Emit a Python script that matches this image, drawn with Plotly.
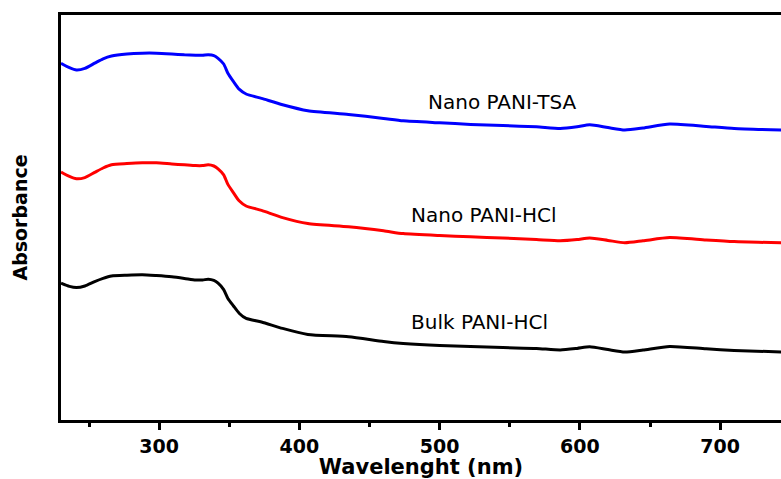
import plotly.graph_objects as go

# Wavelength (nm)
wavelength = [230, 236, 241, 247, 254, 260, 266, 277, 288, 298, 309, 318, 326, 331, 335, 339,
              342, 346, 349, 353, 357, 362, 373, 388, 406, 435, 460, 474, 500, 522, 545, 569,
              586, 598, 607, 620, 632, 645, 664, 690, 710, 744]

# Absorbance (a.u.)
nano_pani_tsa = [0.892, 0.881, 0.875, 0.879, 0.892, 0.903, 0.910, 0.915, 0.917, 0.917, 0.915, 0.913,
                 0.912, 0.912, 0.913, 0.911, 0.904, 0.890, 0.867, 0.846, 0.827, 0.815, 0.804, 0.788,
                 0.773, 0.764, 0.754, 0.748, 0.743, 0.739, 0.736, 0.733, 0.729, 0.733, 0.738, 0.731,
                 0.725, 0.730, 0.740, 0.734, 0.729, 0.725]
nano_pani_hcl = [0.620, 0.609, 0.603, 0.606, 0.619, 0.630, 0.638, 0.641, 0.643, 0.643, 0.640, 0.638,
                 0.636, 0.636, 0.638, 0.635, 0.628, 0.613, 0.589, 0.568, 0.548, 0.535, 0.524, 0.506,
                 0.491, 0.483, 0.473, 0.466, 0.461, 0.458, 0.455, 0.451, 0.448, 0.451, 0.455, 0.449,
                 0.443, 0.448, 0.456, 0.450, 0.446, 0.443]
bulk_pani_hcl = [0.342, 0.334, 0.331, 0.335, 0.346, 0.354, 0.360, 0.362, 0.363, 0.361, 0.358, 0.354,
                 0.350, 0.350, 0.352, 0.349, 0.342, 0.326, 0.304, 0.285, 0.267, 0.254, 0.245, 0.229,
                 0.214, 0.208, 0.196, 0.191, 0.186, 0.184, 0.181, 0.179, 0.175, 0.179, 0.183, 0.176,
                 0.170, 0.175, 0.184, 0.178, 0.174, 0.170]

series_names = ["Nano PANI-TSA", "Nano PANI-HCl", "Bulk PANI-HCl"]
series_values = [nano_pani_tsa, nano_pani_hcl, bulk_pani_hcl]
series_colors = ["#0000FF", "#FF0000", "#000000"]

# label anchor positions (nm, absorbance)
label_x = [544.6, 531.5, 528.5]
label_y = [0.796, 0.5125, 0.245]

fig = go.Figure()
for name, vals, col in zip(series_names, series_values, series_colors):
    fig.add_trace(go.Scatter(x=wavelength, y=vals, mode="lines", name=name,
                             line=dict(color=col, width=3, shape="spline", smoothing=0.6),
                             showlegend=False))

for name, lx, ly in zip(series_names, label_x, label_y):
    fig.add_annotation(x=lx, y=ly, text=name, showarrow=False,
                       font=dict(family="DejaVu Sans", size=20, color="#000"))

fig.update_layout(
    width=781, height=479,
    margin=dict(l=61, r=0, t=15, b=59),
    paper_bgcolor="white", plot_bgcolor="white",
    font=dict(family="DejaVu Sans", color="#000"),
)
fig.update_xaxes(
    range=[230, 743.4], tick0=0, dtick=100, automargin=False,
    ticks="outside", ticklen=7, tickwidth=3, tickcolor="#000",
    minor=dict(dtick=50, ticks="outside", ticklen=4, tickwidth=3, tickcolor="#000"),
    showline=True, linewidth=3, linecolor="#000", mirror=True,
    showgrid=False, zeroline=False,
    tickfont=dict(family="DejaVu Sans", size=19, weight="bold", color="#000"),
    title=dict(text="Wavelenght (nm)", font=dict(family="DejaVu Sans", size=21, weight="bold", color="#000"),
               standoff=0),
)
fig.update_yaxes(
    range=[0, 1.0125], showticklabels=False, ticks="", automargin=False,
    showline=True, linewidth=3, linecolor="#000",
    showgrid=False, zeroline=False,
    title=dict(text="Absorbance", font=dict(family="DejaVu Sans", size=19, weight="bold", color="#000"),
               standoff=26),
)

fig.write_html("out.html", config={"displayModeBar": False},
               post_script="document.body.style.margin='0px';document.body.style.overflow='hidden';")
